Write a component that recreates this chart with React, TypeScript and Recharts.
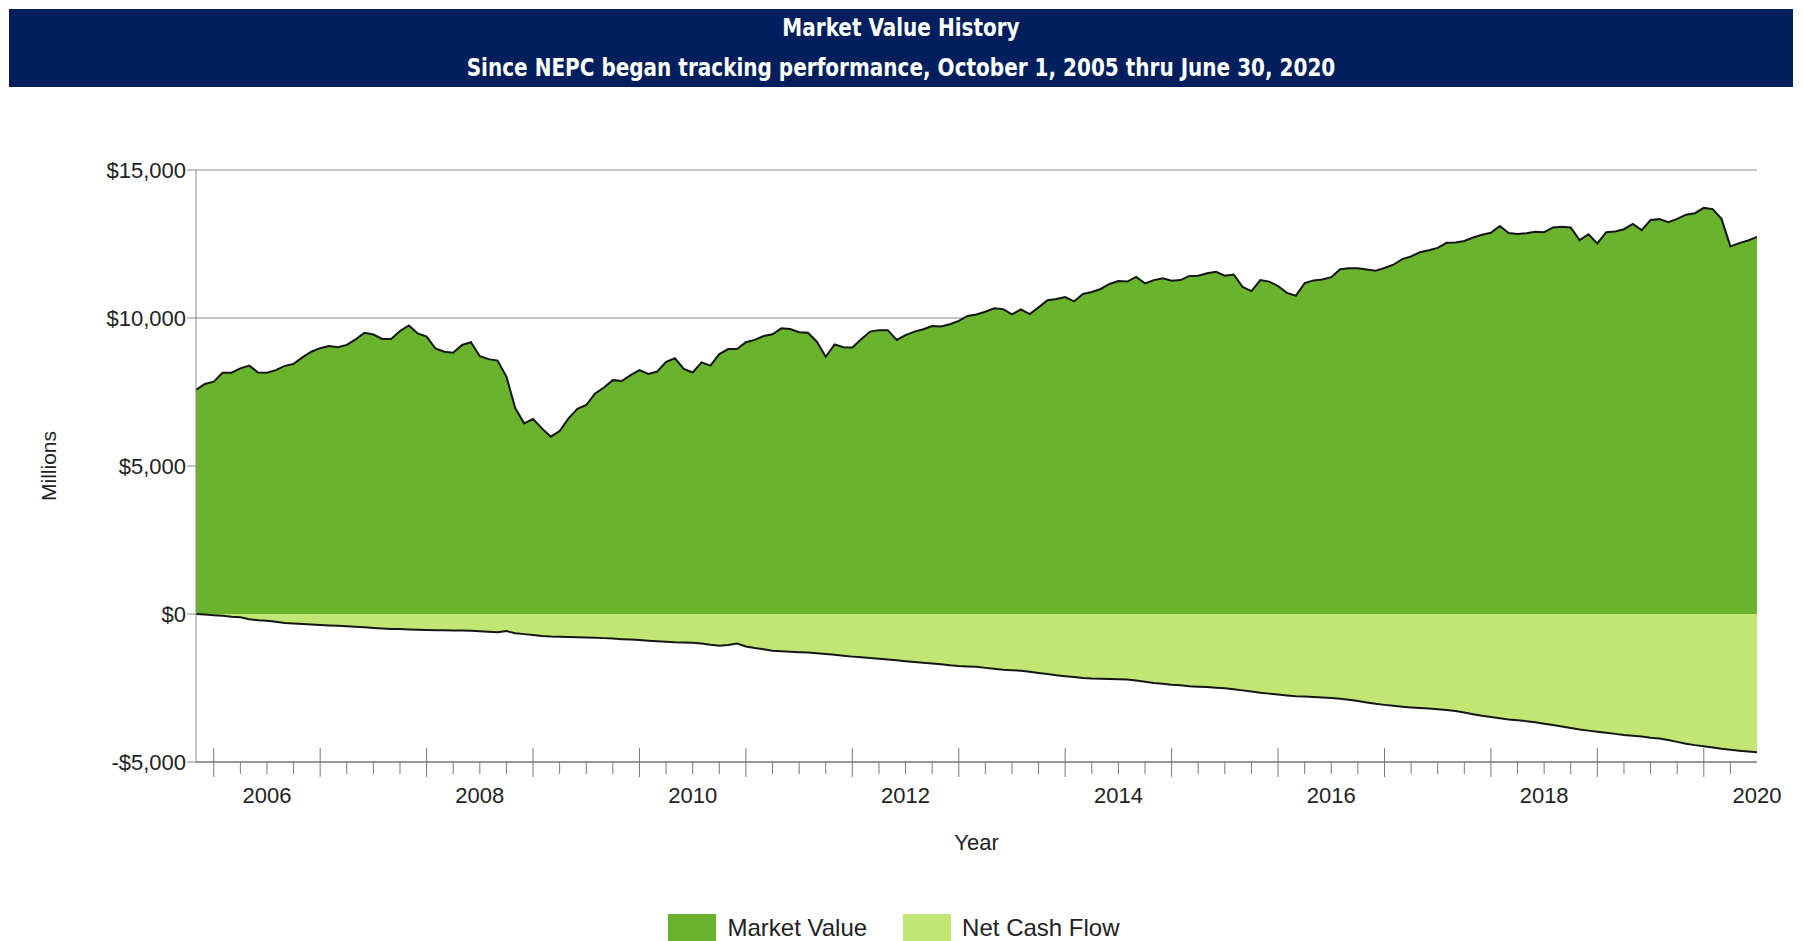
import { AreaChart, Area, XAxis, YAxis, CartesianGrid, Legend } from "recharts"

// Month-end values in $ millions, starting October 2005 and ending June 2020
const startYear = 2005
const startMonth = 10

const marketValue = [
  7570, 7770, 7850, 8150, 8150, 8300, 8390, 8160, 8150, 8240, 8380, 8450,
  8670, 8860, 8980, 9050, 9010, 9090, 9280, 9500, 9440, 9290, 9290, 9560,
  9750, 9480, 9370, 8970, 8860, 8830, 9090, 9180, 8710, 8610, 8560, 8020,
  6950, 6440, 6590, 6270, 5990, 6180, 6610, 6930, 7060, 7450, 7650, 7900,
  7870, 8070, 8240, 8110, 8190, 8520, 8640, 8280, 8160, 8500, 8390, 8780,
  8950, 8950, 9180, 9260, 9390, 9450, 9650, 9630, 9520, 9500, 9200, 8690,
  9110, 9010, 9000, 9280, 9540, 9590, 9590, 9260, 9420, 9540, 9620, 9730,
  9710, 9790, 9900, 10070, 10120, 10210, 10330, 10300, 10120, 10290, 10130, 10360,
  10600, 10640, 10710, 10560, 10810, 10880, 10980, 11150, 11250, 11230, 11390, 11170,
  11280, 11340, 11260, 11280, 11420, 11430, 11510, 11560, 11430, 11470, 11050, 10910,
  11280, 11230, 11080, 10850, 10750, 11180, 11270, 11300, 11380, 11650, 11680, 11680,
  11640, 11600, 11690, 11800, 11990, 12080, 12220, 12290, 12370, 12540, 12550, 12600,
  12720, 12810, 12880, 13110, 12870, 12840, 12860, 12910, 12900, 13060, 13080, 13060,
  12630, 12830, 12520, 12900, 12920, 13000, 13180, 12970, 13310, 13340, 13240, 13350,
  13490, 13540, 13720, 13680, 13350, 12420, 12530, 12620, 12740,
]

const netCashFlow = [
  0, -20, -40, -60, -90, -110, -180, -210, -230, -260, -300, -320,
  -340, -355, -370, -385, -400, -415, -430, -450, -470, -490, -505, -510,
  -520, -530, -540, -545, -550, -555, -560, -565, -580, -600, -620, -575,
  -650, -680, -710, -740, -760, -770, -780, -785, -795, -800, -815, -830,
  -850, -865, -880, -900, -920, -940, -955, -962, -968, -1000, -1040, -1070,
  -1045, -1000, -1100, -1150, -1190, -1240, -1260, -1275, -1290, -1300, -1325, -1350,
  -1380, -1410, -1440, -1465, -1490, -1515, -1540, -1565, -1595, -1620, -1650, -1675,
  -1700, -1735, -1760, -1775, -1785, -1820, -1850, -1880, -1900, -1915, -1950, -1990,
  -2030, -2070, -2100, -2130, -2160, -2180, -2190, -2200, -2205, -2210, -2250, -2290,
  -2330, -2360, -2390, -2410, -2440, -2455, -2470, -2490, -2510, -2540, -2580, -2620,
  -2660, -2690, -2720, -2750, -2775, -2790, -2805, -2820, -2840, -2865, -2900, -2940,
  -2990, -3035, -3070, -3100, -3130, -3155, -3175, -3195, -3220, -3240, -3280, -3330,
  -3390, -3440, -3480, -3520, -3565, -3590, -3620, -3660, -3705, -3750, -3800, -3850,
  -3900, -3940, -3975, -4010, -4050, -4085, -4110, -4140, -4180, -4210, -4260, -4320,
  -4380, -4430, -4470, -4510, -4555, -4590, -4620, -4645, -4670,
]

const yTicks = [-5000, 0, 5000, 10000, 15000]
const tickYears = [2006, 2007, 2008, 2009, 2010, 2011, 2012, 2013, 2014, 2015, 2016, 2017, 2018, 2019, 2020]
const labelYears = [2006, 2008, 2010, 2012, 2014, 2016, 2018, 2020]

const seriesColors: Record<string, string> = {
  marketValue: "#6ab42d",
  netCashFlow: "#c2e674",
}

const font = "'Liberation Sans', Arial, sans-serif"
const narrowFont = "'Liberation Sans Narrow', 'Arial Narrow', 'DejaVu Sans Condensed', sans-serif"

const data = marketValue.map((v, i) => ({
  t: startYear + (startMonth + i) / 12,
  marketValue: v,
  netCashFlow: netCashFlow[i],
}))
const tStart = data[0].t
const tEnd = data[data.length - 1].t

// quarterly ticks; the mid-year one also carries the year label
const quarterTicks = tickYears.flatMap((y) => [y, y + 0.25, y + 0.5, y + 0.75]).filter((t) => t <= tEnd)

const money = (v: number) => (v < 0 ? "-$" : "$") + Math.abs(v).toLocaleString("en-US")

const YearTick = ({ x, y, payload }: any) => {
  const v = payload.value
  const year = Math.floor(v)
  const frac = v - year
  const major = frac === 0
  const showLabel = frac === 0.5 && labelYears.includes(year)
  return (
    <g>
      {v < tEnd && (
        <line x1={x} x2={x} y1={major ? y - 14 : y} y2={y + (major ? 15 : 12)} stroke="#777" strokeWidth={1} />
      )}
      {showLabel && (
        <text x={x} y={y + 41} textAnchor="middle" fontSize={22} fill="#222" fontFamily={font}>
          {year}
        </text>
      )}
    </g>
  )
}

const MillionsLabel = ({ viewBox }: any) => {
  const cx = viewBox.x - 48
  const cy = viewBox.y + viewBox.height / 2
  return (
    <text x={cx} y={cy} transform={`rotate(-90 ${cx} ${cy})`} textAnchor="middle" dominantBaseline="central" fontSize={21} fill="#222" fontFamily={font}>
      Millions
    </text>
  )
}

const renderLegend = (props: any) => (
  <div style={{ display: "flex", justifyContent: "center", height: 30, fontFamily: font, fontSize: 24, color: "#222" }}>
    {props.payload.map((entry: any) => (
      <div key={entry.dataKey} style={{ display: "flex", alignItems: "flex-start", margin: "0 18px" }}>
        <span style={{ display: "inline-block", width: 48, height: 30, background: seriesColors[entry.dataKey], marginRight: 11 }} />
        <span style={{ lineHeight: "27px" }}>{entry.value}</span>
      </div>
    ))}
  </div>
)

const headLine = { position: "absolute" as const, left: 0, right: 0, lineHeight: "30px", transform: "scaleX(0.89)" }

export default function App() {
  return (
    <div style={{ position: "absolute", left: 0, top: 0, width: 1804, height: 941, overflow: "hidden", background: "#fff" }}>
      <div
        style={{
          position: "absolute",
          left: 9,
          top: 9,
          width: 1784,
          height: 78,
          background: "#001f5c",
          color: "#fff",
          fontFamily: narrowFont,
          fontWeight: "bold",
          fontSize: 25,
          textAlign: "center",
        }}
      >
        <div style={{ ...headLine, top: 4 }}>Market Value History</div>
        <div style={{ ...headLine, top: 44 }}>
          Since NEPC began tracking performance, October 1, 2005 thru June 30, 2020
        </div>
      </div>
      <div style={{ position: "absolute", left: 0, top: 0 }}>
        <AreaChart width={1804} height={960} data={data} margin={{ top: 170, right: 47, left: 96, bottom: 68 }}>
          <CartesianGrid vertical={false} stroke="#8a8a8a" />
          <XAxis
            dataKey="t"
            type="number"
            domain={[tStart, tEnd]}
            ticks={quarterTicks}
            interval={0}
            tick={<YearTick />}
            tickLine={false}
            tickSize={0}
            tickMargin={0}
            axisLine={{ stroke: "#8a8a8a", strokeWidth: 1.5 }}
            height={100}
            label={{ value: "Year", position: "insideBottom", offset: 12, fontSize: 22, fill: "#222", fontFamily: font }}
          />
          <YAxis
            domain={[-5000, 15000]}
            ticks={yTicks}
            tickFormatter={money}
            width={100}
            tick={{ fontSize: 22, fill: "#222", fontFamily: font }}
            tickLine={{ stroke: "#8a8a8a" }}
            tickSize={9}
            tickMargin={1}
            axisLine={{ stroke: "#8a8a8a" }}
            label={<MillionsLabel />}
          />
          <Area
            type="linear"
            dataKey="marketValue"
            name="Market Value"
            baseValue={0}
            fill={seriesColors.marketValue}
            fillOpacity={1}
            stroke="#151515"
            strokeWidth={2}
            isAnimationActive={false}
          />
          <Area
            type="linear"
            dataKey="netCashFlow"
            name="Net Cash Flow"
            baseValue={0}
            fill={seriesColors.netCashFlow}
            fillOpacity={1}
            stroke="#151515"
            strokeWidth={2}
            isAnimationActive={false}
          />
          <Legend content={renderLegend} wrapperStyle={{ top: 914, left: 2, width: 1784 }} />
        </AreaChart>
      </div>
    </div>
  )
}
